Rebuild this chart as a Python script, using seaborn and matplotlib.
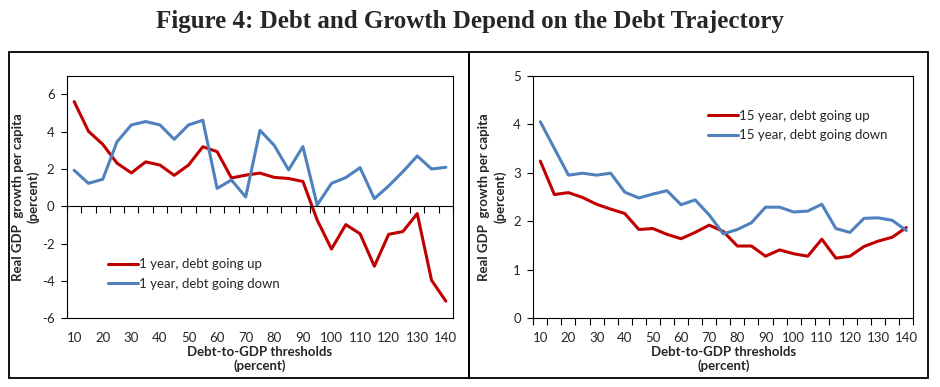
import matplotlib
matplotlib.use("Agg")
import matplotlib.pyplot as plt
import pandas as pd
import seaborn as sns
from matplotlib.patches import Rectangle

# Debt-to-GDP thresholds (percent)
thresholds = [10, 15, 20, 25, 30, 35, 40, 45, 50, 55, 60, 65, 70, 75, 80,
              85, 90, 95, 100, 105, 110, 115, 120, 125, 130, 135, 140]
tick_labels = [10, 20, 30, 40, 50, 60, 70, 80, 90, 100, 110, 120, 130, 140]

# Real GDP growth per capita (percent)
up_1yr = [5.61, 4.02, 3.32, 2.31, 1.79, 2.38, 2.21, 1.66, 2.21, 3.19, 2.93, 1.52, 1.67, 1.78,
          1.55, 1.49, 1.33, -0.73, -2.29, -0.98, -1.47, -3.21, -1.50, -1.35, -0.39, -3.96, -5.08]
down_1yr = [1.93, 1.23, 1.45, 3.46, 4.36, 4.54, 4.36, 3.59, 4.36, 4.61, 0.96, 1.41, 0.50, 4.07,
            3.26, 1.95, 3.20, 0.07, 1.23, 1.54, 2.07, 0.41, 1.09, 1.86, 2.70, 2.00, 2.09]
up_15yr = [3.24, 2.55, 2.59, 2.49, 2.35, 2.25, 2.16, 1.83, 1.85, 1.73, 1.64, 1.77, 1.92, 1.79,
           1.49, 1.49, 1.28, 1.41, 1.33, 1.28, 1.63, 1.24, 1.28, 1.48, 1.59, 1.67, 1.87]
down_15yr = [4.05, 3.50, 2.95, 2.99, 2.95, 2.99, 2.60, 2.48, 2.56, 2.63, 2.34, 2.44, 2.13, 1.74,
             1.83, 1.97, 2.29, 2.29, 2.19, 2.21, 2.35, 1.85, 1.77, 2.06, 2.07, 2.02, 1.81]

labels_1yr = ["1 year, debt going up", "1 year, debt going down"]
labels_15yr = ["15 year, debt going up", "15 year, debt going down"]

RED = "#C00000"
BLUE = "#4F81BD"
LW = 2.2
FONT = "Lato"
FS = 9.5

sns.set_theme(style="white")
plt.rcParams["font.family"] = [FONT, "DejaVu Sans"]
plt.rcParams["axes.linewidth"] = 0.8


def long_form(up, down, names):
    return pd.DataFrame({
        "threshold": thresholds * 2,
        "growth": up + down,
        "series": [names[0]] * len(up) + [names[1]] * len(down),
    })


def style_axes(ax, ylim, yticks):
    ax.set_xlim(thresholds[0] - 2.5, thresholds[-1] + 2.5)
    ax.set_ylim(*ylim)
    ax.set_yticks(yticks)
    ax.set_yticklabels([str(v) for v in yticks])
    for s in ax.spines.values():
        s.set_visible(True)
        s.set_color("black")
        s.set_linewidth(0.8)
    ax.tick_params(axis="y", direction="out", length=4, width=0.8, color="black",
                   labelsize=FS, pad=5, left=True)
    ax.set_ylabel("Real GDP  growth per capita\n(percent)", fontsize=FS,
                  fontweight="bold", linespacing=1.35, va="center", ma="center")
    ax.yaxis.set_label_coords(-0.107, 0.5)
    ax.grid(False)


def add_legend(ax, anchor):
    handles, labels = ax.get_legend_handles_labels()
    ax.legend(handles, labels, loc="center left", bbox_to_anchor=anchor, frameon=False,
              fontsize=FS, handlelength=2.3, handletextpad=0.1, labelspacing=0.55,
              borderpad=0, borderaxespad=0)


fig = plt.figure(figsize=(9.4, 3.87), dpi=100)
ax1 = fig.add_axes([0.0713, 0.1775, 0.4106, 0.627])
ax2 = fig.add_axes([0.5673, 0.1775, 0.4043, 0.627])

# panel frames
for x0, w in [(0.0099, 0.4891), (0.4990, 0.4886)]:
    fig.patches.append(Rectangle((x0, 0.0225), w, 0.844, transform=fig.transFigure,
                                 fill=False, edgecolor="black", linewidth=1.3))

boundaries = [t - 2.5 for t in thresholds] + [thresholds[-1] + 2.5]
xlabel = "Debt-to-GDP thresholds\n(percent)"

# left panel: 1 year
sns.lineplot(data=long_form(up_1yr, down_1yr, labels_1yr), x="threshold", y="growth",
             hue="series", palette=[RED, BLUE], linewidth=LW, ax=ax1)
style_axes(ax1, (-6, 7), [-6, -4, -2, 0, 2, 4, 6])
# category axis crosses at zero, labels stay at the bottom
ax1.spines["bottom"].set_position(("data", 0))
ax1.set_xticks(tick_labels)
ax1.set_xticks(boundaries, minor=True)
ax1.tick_params(axis="x", which="major", length=0, labelbottom=False)
ax1.tick_params(axis="x", which="minor", direction="out", length=5, width=0.8,
                color="black", bottom=True)
ax1.set_xlabel("")
sec = ax1.secondary_xaxis("bottom")
sec.set_xticks(tick_labels)
sec.set_xticklabels([str(v) for v in tick_labels])
sec.tick_params(axis="x", length=0, labelsize=FS, pad=10)
sec.spines["bottom"].set_color("black")
sec.spines["bottom"].set_linewidth(0.8)
sec.set_xlabel(xlabel, fontsize=FS, fontweight="bold", linespacing=1.2, labelpad=1)
add_legend(ax1, (0.105, 0.183))

# right panel: 15 year
sns.lineplot(data=long_form(up_15yr, down_15yr, labels_15yr), x="threshold", y="growth",
             hue="series", palette=[RED, BLUE], linewidth=LW, ax=ax2)
style_axes(ax2, (0, 5), [0, 1, 2, 3, 4, 5])
ax2.set_xticks(tick_labels)
ax2.set_xticklabels([str(v) for v in tick_labels])
ax2.set_xticks(boundaries, minor=True)
ax2.tick_params(axis="x", which="major", length=0, labelsize=FS, pad=10)
ax2.tick_params(axis="x", which="minor", direction="out", length=5, width=0.8,
                color="black", bottom=True)
ax2.set_xlabel(xlabel, fontsize=FS, fontweight="bold", linespacing=1.2, labelpad=1)
add_legend(ax2, (0.459, 0.794))

fig.text(0.5, 0.945, "Figure 4: Debt and Growth Depend on the Debt Trajectory",
         ha="center", va="center", family="Liberation Serif", fontweight="bold", fontsize=18)

fig.savefig("out.png", dpi=100)
